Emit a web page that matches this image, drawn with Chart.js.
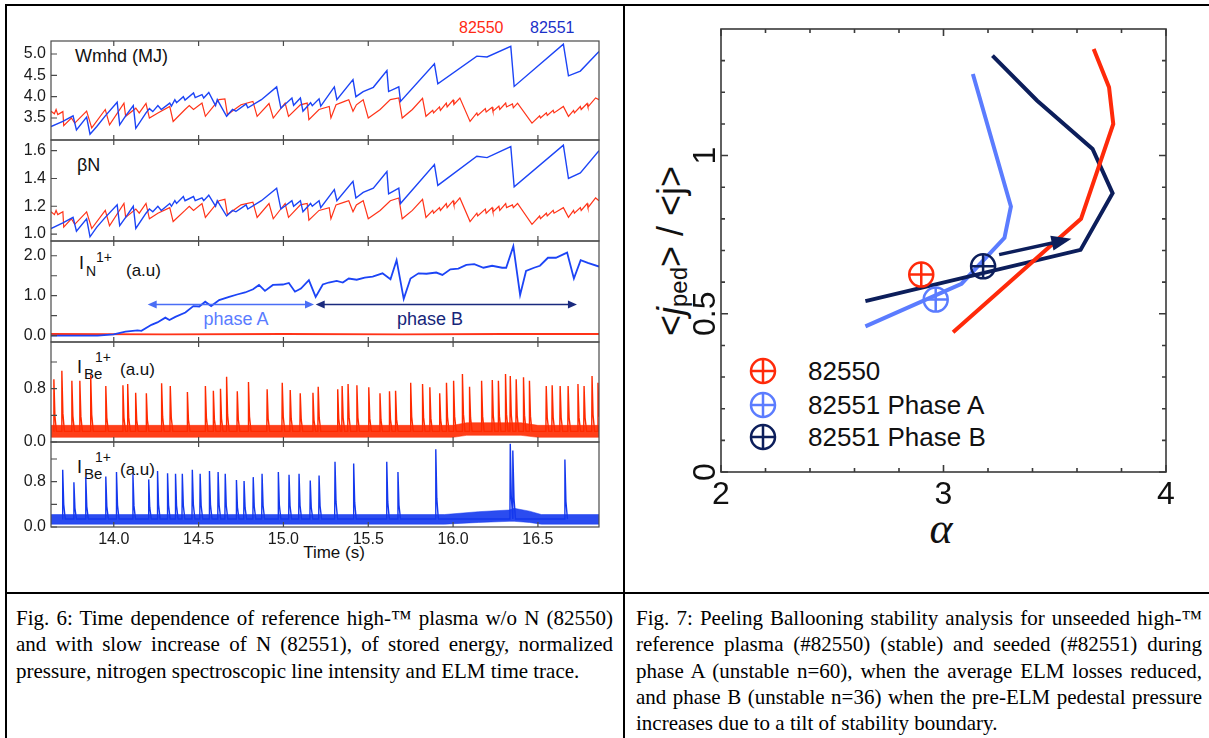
<!DOCTYPE html>
<html><head><meta charset="utf-8">
<script src="https://cdn.jsdelivr.net/npm/chart.js@4/dist/chart.umd.min.js"></script>
<style>
body{margin:0;width:1209px;height:738px;position:relative;background:#fff;overflow:hidden;font-family:'Liberation Sans',Arial,sans-serif;}
.ln{position:absolute;background:#000;}
canvas{position:absolute;}
.t{position:absolute;white-space:nowrap;line-height:1;color:#111;font-family:'Liberation Sans',Arial,sans-serif;}
.cap{position:absolute;font-family:'Liberation Serif','Times New Roman',serif;font-size:21px;line-height:26.3px;color:#000;}
.cap div{white-space:nowrap;text-align:justify;text-align-last:justify;}
.cap div.last{text-align-last:left;}
</style></head><body>
<div class="ln" style="left:5px;top:4px;width:1204px;height:2px"></div>
<div class="ln" style="left:5px;top:4px;width:2px;height:734px"></div>
<div class="ln" style="left:623px;top:4px;width:2px;height:734px"></div>
<div class="ln" style="left:5px;top:592px;width:1204px;height:2px"></div>

<div class="t" style="left:459px;top:20px;font-size:16px;color:#ff2a14">82550</div>
<div class="t" style="left:530px;top:20px;font-size:16px;color:#1a30c8">82551</div>

<div class="t" style="left:75px;top:47px;font-size:18px">Wmhd (MJ)</div>
<div class="t" style="left:77px;top:156px;font-size:18px">βN</div>
<div class="t" style="left:79px;top:254px;font-size:18px">I</div>
<div class="t" style="left:86px;top:264px;font-size:14px">N</div>
<div class="t" style="left:96px;top:250px;font-size:14px">1+</div>
<div class="t" style="left:126px;top:262px;font-size:17px">(a.u)</div>
<div class="t" style="left:77px;top:358px;font-size:18px">I</div>
<div class="t" style="left:84px;top:366px;font-size:15px">Be</div>
<div class="t" style="left:95px;top:350px;font-size:14px">1+</div>
<div class="t" style="left:120px;top:361px;font-size:17px">(a.u)</div>
<div class="t" style="left:77px;top:458px;font-size:18px">I</div>
<div class="t" style="left:84px;top:466px;font-size:15px">Be</div>
<div class="t" style="left:95px;top:450px;font-size:14px">1+</div>
<div class="t" style="left:120px;top:461px;font-size:17px">(a.u)</div>
<div class="t" style="left:186px;top:310px;width:100px;text-align:center;font-size:18px;color:#5a7cff">phase A</div>
<div class="t" style="left:380px;top:310px;width:100px;text-align:center;font-size:18px;color:#16267a">phase B</div>
<div class="t" style="left:284px;top:544px;width:100px;text-align:center;font-size:17px">Time (s)</div>

<div class="t" style="left:671px;top:251px;transform:translate(-50%,-50%) rotate(-90deg);font-size:36px">&lt;<i>j</i><span style="font-size:24px;position:relative;top:4px">ped</span>&gt; / &lt;j&gt;</div>
<div class="t" style="left:891px;top:507px;width:100px;text-align:center;font-family:'Liberation Serif',serif;font-style:italic;font-size:44px">α</div>
<div class="t" style="left:808px;top:358px;font-size:26px">82550</div>
<div class="t" style="left:808px;top:392px;font-size:26px">82551 Phase A</div>
<div class="t" style="left:808px;top:424px;font-size:26px">82551 Phase B</div>

<div class="cap" style="left:16px;top:605px;width:597px">
<div>Fig. 6: Time dependence of reference high-™ plasma w/o N (82550)</div>
<div>and with slow increase of N (82551), of stored energy, normalized</div>
<div class="last">pressure, nitrogen spectroscopic line intensity and ELM time trace.</div>
</div>
<div class="cap" style="left:636px;top:605px;width:566px">
<div>Fig. 7: Peeling Ballooning stability analysis for unseeded high-™</div>
<div>reference plasma (#82550) (stable) and seeded (#82551) during</div>
<div>phase A (unstable n=60), when the average ELM losses reduced,</div>
<div>and phase B (unstable n=36) when the pre-ELM pedestal pressure</div>
<div class="last">increases due to a tilt of stability boundary.</div>
</div>

<script>
// ================= DATA (Fig. 6) =================
const xTickVals = [14.0, 14.5, 15.0, 15.5, 16.0, 16.5];
const xTickLabels = ['14.0', '14.5', '15.0', '15.5', '16.0', '16.5'];
const wmhdTicks = [3.5, 4.0, 4.5, 5.0];
const wmhdTickLabels = ['3.5', '4.0', '4.5', '5.0'];
const betaTicks = [1.0, 1.2, 1.4, 1.6];
const betaTickLabels = ['1.0', '1.2', '1.4', '1.6'];
const inTicks = [0, 0.5, 1.0, 1.5, 2.0];
const inTickLabels = ['0.0', '', '1.0', '', '2.0'];
const elmTicks = [0, 0.4, 0.8, 1.2];
const elmTickLabels = ['0.0', '', '0.8', ''];

// 82551 (blue) stored energy / beta_N
const blueT = [13.63,13.70,13.76,13.78,13.84,13.86,13.90,13.95,14.02,14.035,14.07,14.115,14.13,14.19,14.21,14.23,14.26,14.28,14.33,14.34,14.36,14.37,14.41,14.42,14.47,14.48,14.52,14.53,14.56,14.60,14.61,14.665,14.70,14.72,14.78,14.79,14.87,14.96,14.985,15.05,15.06,15.10,15.115,15.16,15.17,15.21,15.22,15.30,15.315,15.41,15.427,15.47,15.53,15.61,15.62,15.68,15.69,15.89,15.91,16.14,16.20,16.34,16.36,16.65,16.68,16.75,16.86];
const wmhdBlue = [3.30,3.42,3.55,3.22,3.52,3.12,3.30,3.55,3.87,3.34,3.55,3.79,3.26,3.62,3.72,3.65,3.79,3.70,3.85,3.78,3.93,3.86,4.00,3.92,4.09,3.98,4.05,3.97,4.10,3.79,3.93,3.54,3.70,3.66,3.83,3.74,3.93,4.23,3.73,3.97,3.80,3.97,3.66,3.86,3.79,3.95,3.78,4.23,3.93,4.40,4.00,4.12,4.22,4.61,4.12,4.23,3.89,4.77,4.30,4.95,4.93,5.18,4.24,5.23,4.49,4.60,5.06];
const betaBlue = [1.04,1.08,1.12,1.02,1.11,0.98,1.05,1.12,1.21,1.06,1.12,1.20,1.04,1.15,1.18,1.16,1.20,1.17,1.22,1.20,1.24,1.22,1.27,1.24,1.27,1.24,1.26,1.24,1.28,1.20,1.24,1.13,1.17,1.16,1.21,1.18,1.24,1.33,1.18,1.24,1.20,1.24,1.16,1.22,1.20,1.24,1.19,1.32,1.24,1.38,1.26,1.30,1.33,1.45,1.29,1.33,1.22,1.50,1.35,1.56,1.55,1.63,1.34,1.64,1.40,1.44,1.60];

// 82550 (red) stored energy / beta_N
const redT = [13.63,13.65,13.66,13.67,13.70,13.705,13.75,13.77,13.84,13.87,13.95,13.975,14.06,14.07,14.13,14.15,14.19,14.21,14.26,14.33,14.35,14.42,14.445,14.47,14.52,14.54,14.62,14.655,14.67,14.75,14.82,14.845,14.915,14.94,15.01,15.03,15.10,15.14,15.15,15.21,15.27,15.28,15.31,15.36,15.385,15.41,15.43,15.47,15.50,15.57,15.63,15.68,15.70,15.76,15.82,
  15.84,15.88,15.885,15.92,15.925,15.96,15.965,16.00,16.005,16.04,16.10,16.14,16.145,16.19,16.195,16.23,16.235,16.27,16.275,16.31,16.315,16.35,16.355,16.38,16.465,16.51,16.515,16.55,16.555,16.59,16.595,16.65,16.68,16.71,16.715,16.75,16.755,16.79,16.795,16.84,16.86];
const wmhdRed = [3.66,3.60,3.70,3.58,3.65,3.32,3.50,3.38,3.66,3.27,3.70,3.34,3.85,3.54,3.73,3.62,3.84,3.50,3.62,3.77,3.42,3.70,3.79,3.70,3.85,3.54,3.93,3.95,3.58,3.81,3.89,3.54,3.84,3.50,3.85,3.54,3.81,3.85,3.46,3.70,3.77,3.50,3.81,3.89,3.93,3.66,3.81,3.93,3.50,3.70,3.93,3.97,3.50,3.70,3.96,
  3.54,3.68,3.62,3.76,3.68,3.85,3.76,3.92,3.82,3.97,3.42,3.62,3.56,3.72,3.64,3.75,3.66,3.78,3.70,3.85,3.76,3.83,3.74,3.85,3.38,3.55,3.50,3.62,3.56,3.68,3.62,3.77,3.54,3.68,3.62,3.77,3.70,3.84,3.76,3.97,3.93];
const betaRed = [1.16,1.14,1.17,1.14,1.16,1.05,1.11,1.07,1.16,1.04,1.17,1.06,1.22,1.12,1.18,1.15,1.22,1.11,1.15,1.19,1.09,1.17,1.20,1.17,1.22,1.12,1.24,1.25,1.14,1.21,1.23,1.12,1.22,1.11,1.22,1.12,1.21,1.22,1.10,1.17,1.19,1.11,1.21,1.23,1.24,1.16,1.21,1.24,1.11,1.17,1.24,1.26,1.11,1.17,1.25,
  1.12,1.17,1.15,1.19,1.17,1.22,1.19,1.24,1.21,1.26,1.09,1.15,1.13,1.18,1.15,1.19,1.16,1.20,1.17,1.22,1.19,1.21,1.19,1.22,1.07,1.13,1.11,1.15,1.13,1.17,1.15,1.19,1.12,1.17,1.15,1.19,1.17,1.22,1.19,1.26,1.24];

// nitrogen line intensity
const inBlueT = [13.63,13.905,13.999,14.069,14.14,14.163,14.222,14.257,14.304,14.328,14.363,14.422,14.469,14.504,14.539,14.574,14.621,14.68,14.727,14.774,14.821,14.856,14.891,14.938,14.997,15.032,15.068,15.103,15.15,15.19,15.232,15.267,15.314,15.35,15.385,15.432,15.479,15.526,15.584,15.631,15.667,15.709,15.749,15.796,15.843,15.901,15.937,15.984,16.031,16.078,16.125,16.179,16.23,16.289,16.313,16.355,16.395,16.43,16.477,16.512,16.559,16.606,16.672,16.712,16.752,16.794,16.86];
const inBlue = [0.00,0.00,0.03,0.10,0.13,0.12,0.27,0.33,0.45,0.39,0.47,0.58,0.74,0.73,0.85,0.74,0.89,0.97,1.03,1.08,1.16,1.27,1.12,1.27,1.28,1.32,1.10,1.18,1.39,0.97,1.28,1.33,1.37,1.33,1.43,1.40,1.45,1.48,1.56,1.41,1.89,0.92,1.43,1.56,1.55,1.58,1.52,1.66,1.68,1.77,1.79,1.70,1.75,1.70,1.70,2.24,1.02,1.62,1.70,1.75,1.95,1.95,2.08,1.43,1.89,1.82,1.73];
const inRedT = [13.63, 14.30, 15.00, 15.70, 16.30, 16.86];
const inRed = [0.04, 0.03, 0.04, 0.03, 0.04, 0.04];
const phaseA = [14.20, 15.18];
const phaseB = [15.19, 16.73];
const phaseArrowY = 0.78;

// ELM (Be II) traces: spike times and peak heights, baseline band
const elmRedT = [13.646,13.693,13.752,13.799,13.863,13.952,14.053,14.081,14.128,14.191,14.281,14.332,14.433,14.539,14.586,14.628,14.664,14.727,14.793,14.903,14.992,15.039,15.098,15.173,15.204,15.319,15.345,15.380,15.432,15.502,15.568,15.624,15.660,15.749,15.819,15.862,15.920,15.960,16.002,16.054,16.096,16.167,16.230,16.266,16.308,16.336,16.371,16.414,16.449,16.548,16.583,16.630,16.677,16.735,16.771,16.818,16.853];
const elmRedPeak = [0.94,1.07,0.92,0.92,1.00,0.84,0.85,0.87,0.74,0.73,0.88,0.84,0.75,0.84,0.77,0.80,0.98,0.76,0.90,0.79,0.89,0.78,0.73,0.74,0.83,0.79,0.84,0.87,0.85,0.82,0.73,0.76,0.77,0.89,0.87,0.82,0.73,0.89,0.92,1.02,0.83,0.92,0.93,0.92,1.02,0.99,0.94,0.97,0.92,0.84,0.85,0.84,0.84,0.87,0.84,0.99,0.89];
const elmRedBandT = [13.63, 16.00, 16.08, 16.40, 16.50, 16.86];
const elmRedLow = [0.07, 0.07, 0.10, 0.10, 0.07, 0.07];
const elmRedHigh = [0.25, 0.25, 0.29, 0.29, 0.25, 0.25];
const elmRedBase = 0.16;

const elmBlueT = [13.698,13.764,13.834,13.952,14.015,14.112,14.205,14.257,14.316,14.363,14.403,14.462,14.508,14.563,14.614,14.656,14.722,14.767,14.821,14.873,14.969,15.032,15.091,15.157,15.209,15.303,15.413,15.608,15.674,15.897,16.336,16.352,16.658];
const elmBluePeak = [1.01,0.79,0.88,0.89,0.97,0.93,0.84,0.99,0.95,0.94,0.94,1.01,0.94,0.99,0.97,0.94,0.83,0.81,0.88,0.94,0.97,0.92,0.94,0.82,0.91,1.15,1.12,1.15,0.97,1.37,1.47,1.35,1.19];
const elmBlueBandT = [13.63, 15.95, 16.15, 16.33, 16.36, 16.45, 16.52, 16.86];
const elmBlueLow = [0.05, 0.05, 0.08, 0.10, 0.10, 0.08, 0.05, 0.05];
const elmBlueHigh = [0.22, 0.22, 0.27, 0.30, 0.33, 0.28, 0.22, 0.22];
const elmBlueBase = 0.14;

// ================= DATA (Fig. 7) =================
const pbAlphaRed = [3.675, 3.744, 3.763, 3.618, 3.043];
const pbJRed = [1.337, 1.216, 1.100, 0.800, 0.442];
const pbAlphaA = [3.132, 3.303, 3.274, 3.081, 2.649];
const pbJA = [1.258, 0.839, 0.740, 0.595, 0.460];
const pbAlphaB = [3.220, 3.420, 3.670, 3.760, 3.616, 2.649];
const pbJB = [1.316, 1.174, 1.021, 0.881, 0.702, 0.540];
const markerAlpha = [2.900, 2.965, 3.178];
const markerJ = [0.624, 0.545, 0.650];
const arrowAlpha = [3.25, 3.575];
const arrowJ = [0.687, 0.737];
const rightXTicks = [2, 3, 4];
const rightXMinor = [2.2, 2.4, 2.6, 2.8, 3.2, 3.4, 3.6, 3.8];
const rightYTicks = [0, 0.5, 1];
const rightYTickLabels = ['0', '0.5', '1'];
const rightYMinor = [0.1, 0.2, 0.3, 0.4, 0.6, 0.7, 0.8, 0.9, 1.1, 1.2, 1.3];
const legendLabels = ['82550', '82551 Phase A', '82551 Phase B'];

// ================= STYLE =================
const RED = '#ff3318', BLUE = '#1c44f6';
const RED_ELM = '#ff2a00', BLUE_ELM = '#1438ee';
const PB_RED = '#ff2a0a', PB_LIGHT = '#5b7cff', PB_NAVY = '#0c1e5b';
const SANS = "'Liberation Sans', Arial, sans-serif";
const X_MIN = 13.63, X_MAX = 16.86;

function mkCanvas(x, y, w, h) {
  const c = document.createElement('canvas');
  c.width = w; c.height = h;
  c.style.left = x + 'px'; c.style.top = y + 'px';
  c.style.width = w + 'px'; c.style.height = h + 'px';
  document.body.appendChild(c);
  return c;
}
const pts = (t, v) => t.map((x, i) => ({x: x, y: v[i]}));
function spikes(times, peaks, base) {
  const out = [];
  times.forEach((t, i) => {
    out.push({x: t - 0.001, y: base}, {x: t + 0.001, y: peaks[i]},
             {x: t + 0.007, y: base + 0.3 * (peaks[i] - base)}, {x: t + 0.016, y: base});
  });
  return out;
}
function arrowHead(ctx, xa, ya, xb, yb, hl, hw) {
  const ang = Math.atan2(yb - ya, xb - xa), c = Math.cos(ang), s = Math.sin(ang);
  ctx.beginPath();
  ctx.moveTo(xb, yb);
  ctx.lineTo(xb - hl * c + hw * s, yb - hl * s - hw * c);
  ctx.lineTo(xb - hl * c - hw * s, yb - hl * s + hw * c);
  ctx.closePath(); ctx.fill();
}

function leftPanel(p) {
  const padT = 15, padB = p.last ? 0 : 15, axH = p.last ? 45 : 0;
  const h = p.bottom - p.top + padT + padB + axH;
  const cv = mkCanvas(0, p.top - padT, 600, h);
  const frame = {
    id: 'frame' + p.top,
    afterDatasetsDraw(chart) {
      const ctx = chart.ctx, a = chart.chartArea, x = chart.scales.x, y = chart.scales.y;
      ctx.save();
      if (p.extra) p.extra(ctx, x, y);
      ctx.strokeStyle = '#4a4a4a'; ctx.lineWidth = 1.2;
      ctx.strokeRect(a.left, a.top, a.right - a.left, a.bottom - a.top);
      ctx.beginPath();
      xTickVals.forEach(v => { const px = x.getPixelForValue(v);
        ctx.moveTo(px, a.bottom); ctx.lineTo(px, a.bottom - 5);
        ctx.moveTo(px, a.top); ctx.lineTo(px, a.top + 5); });
      p.yTicks.forEach(v => { const py = y.getPixelForValue(v);
        ctx.moveTo(a.left, py); ctx.lineTo(a.left + 6, py); });
      ctx.stroke();
      ctx.restore();
    }
  };
  return new Chart(cv, {
    type: 'line',
    data: {datasets: p.datasets},
    options: {
      responsive: false, animation: false, devicePixelRatio: 1, events: [],
      layout: {padding: {left: 0, right: 1, top: padT, bottom: padB}},
      plugins: {legend: {display: false}, tooltip: {enabled: false}},
      elements: {point: {radius: 0}, line: {tension: 0}},
      scales: {
        x: {type: 'linear', min: X_MIN, max: X_MAX, display: !!p.last,
            afterFit: s => { s.height = axH; },
            afterBuildTicks: s => { s.ticks = xTickVals.map(v => ({value: v})); },
            ticks: {autoSkip: false, maxRotation: 0, minRotation: 0, padding: 3, color: '#1a1a1a',
                    font: {family: SANS, size: 16}, callback: (v, i) => xTickLabels[i]},
            grid: {display: false, drawTicks: false}, border: {display: false}},
        y: {type: 'linear', min: p.yMin, max: p.yMax,
            afterFit: s => { s.width = 51; },
            afterBuildTicks: s => { s.ticks = p.yTicks.map(v => ({value: v})); },
            ticks: {autoSkip: false, padding: 5, color: '#1a1a1a',
                    font: {family: SANS, size: 16}, callback: (v, i) => p.yLabels[i]},
            grid: {display: false, drawTicks: false}, border: {display: false}}
      }
    },
    plugins: [frame]
  });
}

leftPanel({top: 41, bottom: 140, yMin: 2.985, yMax: 5.305, yTicks: wmhdTicks, yLabels: wmhdTickLabels,
  datasets: [
    {data: pts(blueT, wmhdBlue), borderColor: BLUE, borderWidth: 1.4},
    {data: pts(redT, wmhdRed), borderColor: RED, borderWidth: 1.2}
  ]});
leftPanel({top: 140, bottom: 241, yMin: 0.95, yMax: 1.677, yTicks: betaTicks, yLabels: betaTickLabels,
  datasets: [
    {data: pts(blueT, betaBlue), borderColor: BLUE, borderWidth: 1.4},
    {data: pts(redT, betaRed), borderColor: RED, borderWidth: 1.2}
  ]});
leftPanel({top: 241, bottom: 342, yMin: -0.16, yMax: 2.37, yTicks: inTicks, yLabels: inTickLabels,
  datasets: [
    {data: pts(inBlueT, inBlue), borderColor: BLUE, borderWidth: 1.8},
    {data: pts(inRedT, inRed), borderColor: RED, borderWidth: 1.8}
  ],
  extra(ctx, x, y) {
    const py = y.getPixelForValue(phaseArrowY);
    const a0 = x.getPixelForValue(phaseA[0]), a1 = x.getPixelForValue(phaseA[1]);
    const b0 = x.getPixelForValue(phaseB[0]), b1 = x.getPixelForValue(phaseB[1]);
    ctx.lineWidth = 1.6;
    ctx.strokeStyle = '#4a6ef5'; ctx.fillStyle = '#4a6ef5';
    ctx.beginPath(); ctx.moveTo(a0 + 6, py); ctx.lineTo(a1 - 6, py); ctx.stroke();
    arrowHead(ctx, a1, py, a0, py, 9, 4); arrowHead(ctx, a0, py, a1, py, 9, 4);
    ctx.strokeStyle = '#1a2a7e'; ctx.fillStyle = '#1a2a7e';
    ctx.beginPath(); ctx.moveTo(b0 + 6, py); ctx.lineTo(b1 - 6, py); ctx.stroke();
    arrowHead(ctx, b1, py, b0, py, 9, 4); arrowHead(ctx, b0, py, b1, py, 9, 4);
  }});
leftPanel({top: 342, bottom: 442, yMin: 0, yMax: 1.5, yTicks: elmTicks, yLabels: elmTickLabels,
  datasets: [
    {data: spikes(elmRedT, elmRedPeak, elmRedBase), borderColor: RED_ELM, borderWidth: 1.4},
    {data: pts(elmRedBandT, elmRedHigh), borderColor: RED_ELM, borderWidth: 0.5, fill: '+1', backgroundColor: 'rgba(255,42,0,0.9)'},
    {data: pts(elmRedBandT, elmRedLow), borderColor: RED_ELM, borderWidth: 0.5}
  ]});
leftPanel({top: 442, bottom: 527, last: true, yMin: 0, yMax: 1.5, yTicks: elmTicks, yLabels: elmTickLabels,
  datasets: [
    {data: spikes(elmBlueT, elmBluePeak, elmBlueBase), borderColor: BLUE_ELM, borderWidth: 1.4},
    {data: pts(elmBlueBandT, elmBlueHigh), borderColor: BLUE_ELM, borderWidth: 0.5, fill: '+1', backgroundColor: 'rgba(20,56,238,0.9)'},
    {data: pts(elmBlueBandT, elmBlueLow), borderColor: BLUE_ELM, borderWidth: 0.5}
  ]});

// ================= Fig. 7 =================
const markerColors = [PB_RED, PB_LIGHT, PB_NAVY];
const cvR = mkCanvas(626, 7, 579, 585);
const rightExtras = {
  id: 'rightExtras',
  afterDatasetsDraw(chart) {
    const ctx = chart.ctx, a = chart.chartArea, x = chart.scales.x, y = chart.scales.y;
    ctx.save();
    // arrow
    const x0 = x.getPixelForValue(arrowAlpha[0]), y0 = y.getPixelForValue(arrowJ[0]);
    const x1 = x.getPixelForValue(arrowAlpha[1]), y1 = y.getPixelForValue(arrowJ[1]);
    const ang = Math.atan2(y1 - y0, x1 - x0);
    ctx.strokeStyle = PB_NAVY; ctx.fillStyle = PB_NAVY; ctx.lineWidth = 3.5;
    ctx.beginPath(); ctx.moveTo(x0, y0); ctx.lineTo(x1 - 16 * Math.cos(ang), y1 - 16 * Math.sin(ang)); ctx.stroke();
    arrowHead(ctx, x0, y0, x1, y1, 20, 7.5);
    // frame + ticks
    ctx.strokeStyle = '#3a3a3a'; ctx.lineWidth = 1.6;
    ctx.strokeRect(a.left, a.top, a.right - a.left, a.bottom - a.top);
    ctx.beginPath();
    const xt = (v, len) => { const p = x.getPixelForValue(v);
      ctx.moveTo(p, a.bottom); ctx.lineTo(p, a.bottom - len); ctx.moveTo(p, a.top); ctx.lineTo(p, a.top + len); };
    const yt = (v, len) => { const p = y.getPixelForValue(v);
      ctx.moveTo(a.left, p); ctx.lineTo(a.left + len, p); ctx.moveTo(a.right, p); ctx.lineTo(a.right - len, p); };
    rightXMinor.forEach(v => xt(v, 4)); rightXTicks.forEach(v => xt(v, 7));
    rightYMinor.forEach(v => yt(v, 4)); rightYTicks.forEach(v => yt(v, 7));
    ctx.stroke();
    // rotated y tick labels
    ctx.fillStyle = '#111'; ctx.font = '32px ' + SANS; ctx.textAlign = 'center'; ctx.textBaseline = 'middle';
    rightYTicks.forEach((v, i) => { const p = y.getPixelForValue(v);
      ctx.save(); ctx.translate(a.left - 15, p); ctx.rotate(-Math.PI / 2);
      ctx.fillText(rightYTickLabels[i], 0, 0); ctx.restore(); });
    // legend symbols
    legendLabels.forEach((lab, i) => {
      const cx = 137, cy = [364, 398, 430][i];
      ctx.strokeStyle = markerColors[i]; ctx.lineWidth = 2.5;
      ctx.beginPath(); ctx.arc(cx, cy, 12, 0, Math.PI * 2); ctx.stroke();
      ctx.beginPath(); ctx.moveTo(cx - 12, cy); ctx.lineTo(cx + 12, cy); ctx.moveTo(cx, cy - 12); ctx.lineTo(cx, cy + 12); ctx.stroke();
    });
    ctx.restore();
  }
};
const markerSets = [];
markerAlpha.forEach((m, i) => {
  markerSets.push({data: [{x: m, y: markerJ[i]}], showLine: false, pointStyle: 'cross', pointRadius: 12,
    pointBorderWidth: 2.5, pointBorderColor: markerColors[i], borderColor: markerColors[i]});
});
markerAlpha.forEach((m, i) => {
  markerSets.push({data: [{x: m, y: markerJ[i]}], showLine: false, pointStyle: 'circle', pointRadius: 12,
    pointBorderWidth: 2.5, pointBorderColor: markerColors[i], pointBackgroundColor: 'rgba(0,0,0,0)', borderColor: markerColors[i]});
});
new Chart(cvR, {
  type: 'line',
  data: {datasets: markerSets.concat([
    {data: pts(pbAlphaRed, pbJRed), borderColor: PB_RED, borderWidth: 4, pointRadius: 0},
    {data: pts(pbAlphaB, pbJB), borderColor: PB_NAVY, borderWidth: 4, pointRadius: 0},
    {data: pts(pbAlphaA, pbJA), borderColor: PB_LIGHT, borderWidth: 4, pointRadius: 0}
  ])},
  options: {
    responsive: false, animation: false, devicePixelRatio: 1, events: [],
    layout: {padding: {left: 95, right: 39, top: 22, bottom: 50}},
    plugins: {legend: {display: false}, tooltip: {enabled: false}},
    elements: {line: {tension: 0}},
    scales: {
      x: {type: 'linear', min: 2, max: 4,
          afterFit: s => { s.height = 70; },
          afterBuildTicks: s => { s.ticks = rightXTicks.map(v => ({value: v})); },
          ticks: {autoSkip: false, maxRotation: 0, minRotation: 0, padding: 4, color: '#111',
                  font: {family: SANS, size: 32}, callback: v => String(v)},
          grid: {display: false, drawTicks: false}, border: {display: false}},
      y: {type: 'linear', min: 0, max: 1.4, display: false}
    }
  },
  plugins: [rightExtras]
});
</script>
</body></html>
